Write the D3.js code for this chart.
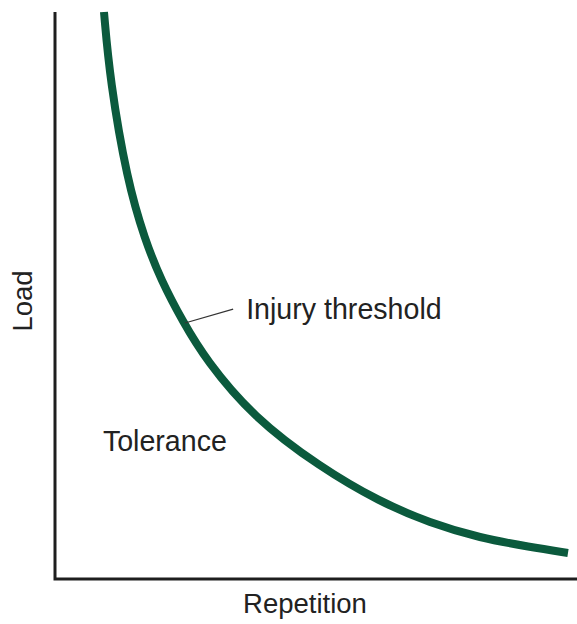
<!DOCTYPE html>
<html>
<head>
<meta charset="utf-8">
<script src="https://cdn.jsdelivr.net/npm/d3@7"></script>
<style>
  html, body { margin: 0; padding: 0; background: #fff; }
  svg { display: block; }
  text { font-family: "Liberation Sans", Arial, Helvetica, sans-serif; fill: #222; }
</style>
</head>
<body>
<svg id="chart" width="577" height="624"></svg>
<script>
// Load vs. repetition: the injury-threshold curve (relative units, 0–100)
const repetition = [9.21, 10.36, 13.63, 17.08, 20.15, 24.38, 28.79, 37.81, 50.67, 62.19, 71.79, 81.38, 90.98, 98.27];
const load       = [100, 88.0, 70.37, 59.79, 52.73, 45.33, 38.62, 28.57, 19.75, 13.58, 9.88, 7.23, 5.64, 4.59];

const axisTitles = { x: "Repetition", y: "Load" };
const curveLabel = "Injury threshold";
const regionLabel = "Tolerance";
// callout: from a point on the curve out to its label (data units)
const calloutFrom = { rep: 24.76, load: 45.15 };
const calloutTo = { rep: 34.0, load: 47.6 };
const calloutText = { rep: 36.5, load: 45.9 };
const regionAt = { rep: 9.0, load: 22.6 };

const svg = d3.select("#chart");
const x = d3.scaleLinear().domain([0, 100]).range([56, 577]);
const y = d3.scaleLinear().domain([0, 100]).range([579, 12]);

// axes: plain L-shaped frame, no ticks
svg.append("path")
  .attr("d", `M${x(0) - 1},${y(100)} V${y(0)} H${x(100)}`)
  .attr("fill", "none")
  .attr("stroke", "#1e1e1e")
  .attr("stroke-width", 3);

// threshold curve
const pts = repetition.map((r, i) => [r, load[i]]);
const line = d3.line()
  .x(d => x(d[0]))
  .y(d => y(d[1]))
  .curve(d3.curveBasis);

svg.append("path")
  .datum(pts)
  .attr("d", line)
  .attr("fill", "none")
  .attr("stroke", "#0b5a3d")
  .attr("stroke-width", 8);

// callout
svg.append("line")
  .attr("x1", x(calloutFrom.rep)).attr("y1", y(calloutFrom.load))
  .attr("x2", x(calloutTo.rep)).attr("y2", y(calloutTo.load))
  .attr("stroke", "#333")
  .attr("stroke-width", 1.3);

svg.append("text")
  .attr("x", x(calloutText.rep))
  .attr("y", y(calloutText.load))
  .attr("font-size", 28.6)
  .text(curveLabel);

svg.append("text")
  .attr("x", x(regionAt.rep))
  .attr("y", y(regionAt.load))
  .attr("font-size", 28.6)
  .text(regionLabel);

// axis titles
svg.append("text")
  .attr("x", 305)
  .attr("y", 613)
  .attr("text-anchor", "middle")
  .attr("font-size", 27.5)
  .text(axisTitles.x);

svg.append("text")
  .attr("transform", "translate(32,301) rotate(-90)")
  .attr("text-anchor", "middle")
  .attr("font-size", 27.5)
  .text(axisTitles.y);
</script>
</body>
</html>
